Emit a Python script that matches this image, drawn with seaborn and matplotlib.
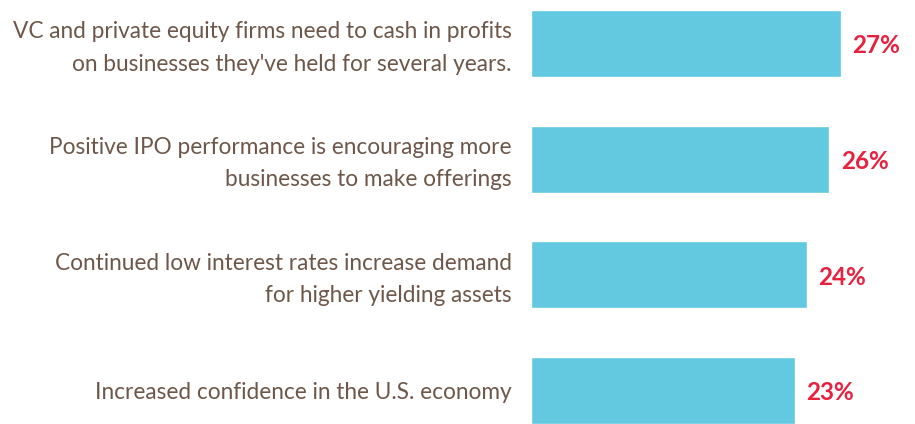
import pandas as pd
import matplotlib.pyplot as plt
import matplotlib.transforms as mtransforms
import seaborn as sns

labels = [
    "VC and private equity firms need to cash in profits\non businesses they've held for several years.",
    "Positive IPO performance is encouraging more\nbusinesses to make offerings",
    "Continued low interest rates increase demand\nfor higher yielding assets",
    "Increased confidence in the U.S. economy",
]
values = [27, 26, 24, 23]

df = pd.DataFrame({"reason": labels, "pct": values})

sns.set_style("white")
plt.rcParams['font.family'] = ['Lato', 'DejaVu Sans']

fig = plt.figure(figsize=(9.15, 4.24), dpi=100)
ax = fig.add_axes([531 / 915, 0, 384 / 915, 1])
sns.barplot(data=df, x="pct", y="reason", color="#62c9e1", width=0.58,
            saturation=1, ax=ax)

ax.set_xlim(0, 384 / 11.48)
ax.set_ylim(3.29, -0.376)
ax.set_xlabel("")
ax.set_ylabel("")
ax.set_xticks([])
ax.tick_params(axis="y", length=0, pad=14, labelsize=16.3, labelcolor="#6e574a")
# nudge the two-line labels up a little so they sit centred on the bars
shift = mtransforms.ScaledTranslation(0, 3 / 100, fig.dpi_scale_trans)
for lbl in ax.get_yticklabels():
    lbl.set_horizontalalignment("right")
    lbl.set_multialignment("right")
    lbl.set_linespacing(1.65)
    if "\n" in lbl.get_text():
        lbl.set_transform(lbl.get_transform() + shift)
sns.despine(ax=ax, left=True, bottom=True)

for i, v in enumerate(values):
    ax.text(v + 1.0, i + 0.02, f"{v}%", va="center", ha="left", fontsize=17.5,
            fontweight="bold", color="#e8213f")

fig.savefig("out.png", dpi=100)
